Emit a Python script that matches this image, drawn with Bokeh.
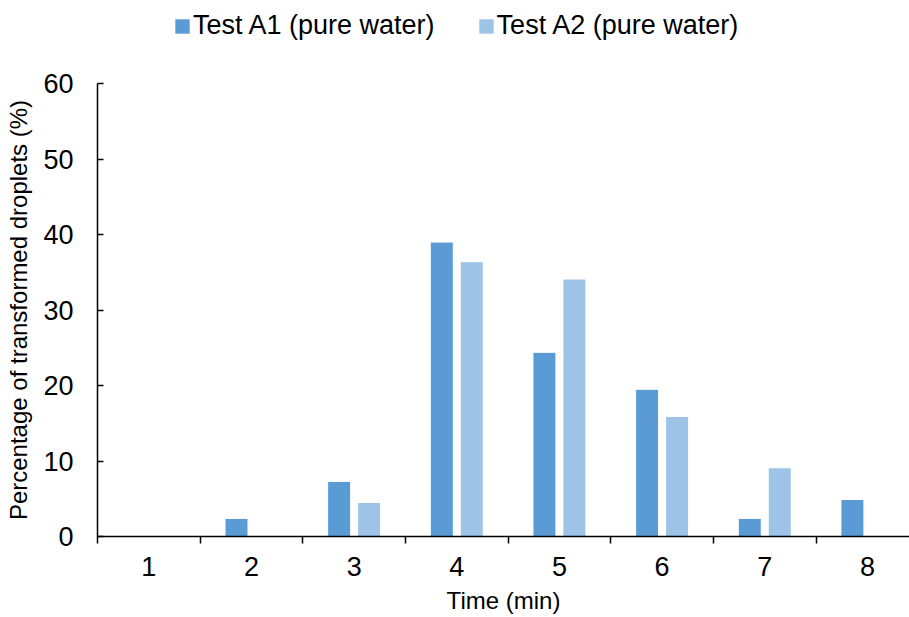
from bokeh.plotting import figure
from bokeh.layouts import column
from bokeh.models import FixedTicker, ColumnDataSource, Range1d
from bokeh.transform import dodge
from bokeh.embed import file_html
from bokeh.resources import INLINE

times = [1, 2, 3, 4, 5, 6, 7, 8]
test_a1 = [0, 2.4, 7.3, 39.0, 24.4, 19.5, 2.4, 4.9]
test_a2 = [0, 0, 4.5, 36.4, 34.1, 15.9, 9.1, 0]
y_ticks = [0, 10, 20, 30, 40, 50, 60]
series_names = ["Test A1 (pure water)", "Test A2 (pure water)"]
colors = ["#5B9BD5", "#9DC3E6"]

FONT = "Liberation Sans"

src = ColumnDataSource(dict(t=times, a1=test_a1, a2=test_a2))

# ---- legend strip on top (legend-only glyph, no drawn data) ----
top = figure(width=909, height=55, output_backend="svg", toolbar_location=None,
             x_range=Range1d(0, 1), y_range=Range1d(0, 1),
             x_axis_type=None, y_axis_type=None,
             min_border_left=0, min_border_right=0, min_border_top=0, min_border_bottom=0)
top.outline_line_color = None
nan = float("nan")
leg_src = ColumnDataSource(dict(l=[nan] * len(series_names), r=[nan] * len(series_names),
                                b=[nan] * len(series_names), t=[nan] * len(series_names),
                                color=colors, label=series_names))
top.quad(left='l', right='r', bottom='b', top='t', source=leg_src,
         fill_color='color', line_color=None, legend_field='label')
leg = top.legend[0]
leg.orientation = "horizontal"
leg.location = (76, 14)
leg.glyph_width = 18
leg.glyph_height = 18
leg.label_standoff = 2
leg.spacing = 42
leg.padding = 0
leg.margin = 0
leg.border_line_color = None
leg.background_fill_alpha = 0
leg.label_text_font = FONT
leg.label_text_font_size = "27px"
leg.label_text_color = "black"

# ---- main chart ----
p = figure(width=909, height=562, output_backend="svg", toolbar_location=None,
           x_range=Range1d(0.5, 8.41), y_range=Range1d(0, 60),
           min_border_left=97, min_border_right=0, min_border_top=28, min_border_bottom=81)
p.outline_line_color = None
p.xgrid.grid_line_color = None
p.ygrid.grid_line_color = None
p.background_fill_color = "white"

p.vbar(x=dodge('t', -0.146, range=p.x_range), top='a1', width=0.224, source=src,
       fill_color=colors[0], line_color="white", line_width=1)
p.vbar(x=dodge('t', 0.146, range=p.x_range), top='a2', width=0.224, source=src,
       fill_color=colors[1], line_color="white", line_width=1)

xa = p.xaxis[0]
xa.ticker = FixedTicker(ticks=times, minor_ticks=[t + 0.5 for t in [0] + times])
xa.major_tick_line_color = None
xa.major_tick_out = 0
xa.major_tick_in = 0
xa.minor_tick_out = 7
xa.minor_tick_in = 0
xa.minor_tick_line_color = "black"
xa.minor_tick_line_width = 1.5
xa.axis_line_color = "black"
xa.axis_line_width = 1.5
xa.major_label_text_font = FONT
xa.major_label_text_font_size = "27px"
xa.major_label_text_color = "black"
xa.major_label_standoff = 13
xa.axis_label = "Time (min)"
xa.axis_label_text_font = FONT
xa.axis_label_text_font_size = "24px"
xa.axis_label_text_font_style = "normal"
xa.axis_label_text_color = "black"
xa.axis_label_standoff = 8

ya = p.yaxis[0]
ya.ticker = FixedTicker(ticks=y_ticks, minor_ticks=[])
ya.major_tick_out = 0
ya.major_tick_in = 6
ya.major_tick_line_width = 1.5
ya.major_tick_line_color = "black"
ya.axis_line_color = "black"
ya.axis_line_width = 1.5
ya.major_label_text_font = FONT
ya.major_label_text_font_size = "27px"
ya.major_label_text_color = "black"
ya.major_label_standoff = 24
ya.axis_label = "Percentage of transformed droplets (%)"
ya.axis_label_text_font = FONT
ya.axis_label_text_font_size = "24px"
ya.axis_label_text_font_style = "normal"
ya.axis_label_text_color = "black"
ya.axis_label_standoff = 8

layout = column(top, p, spacing=0)
open("out.html", "w").write(file_html(layout, INLINE))
